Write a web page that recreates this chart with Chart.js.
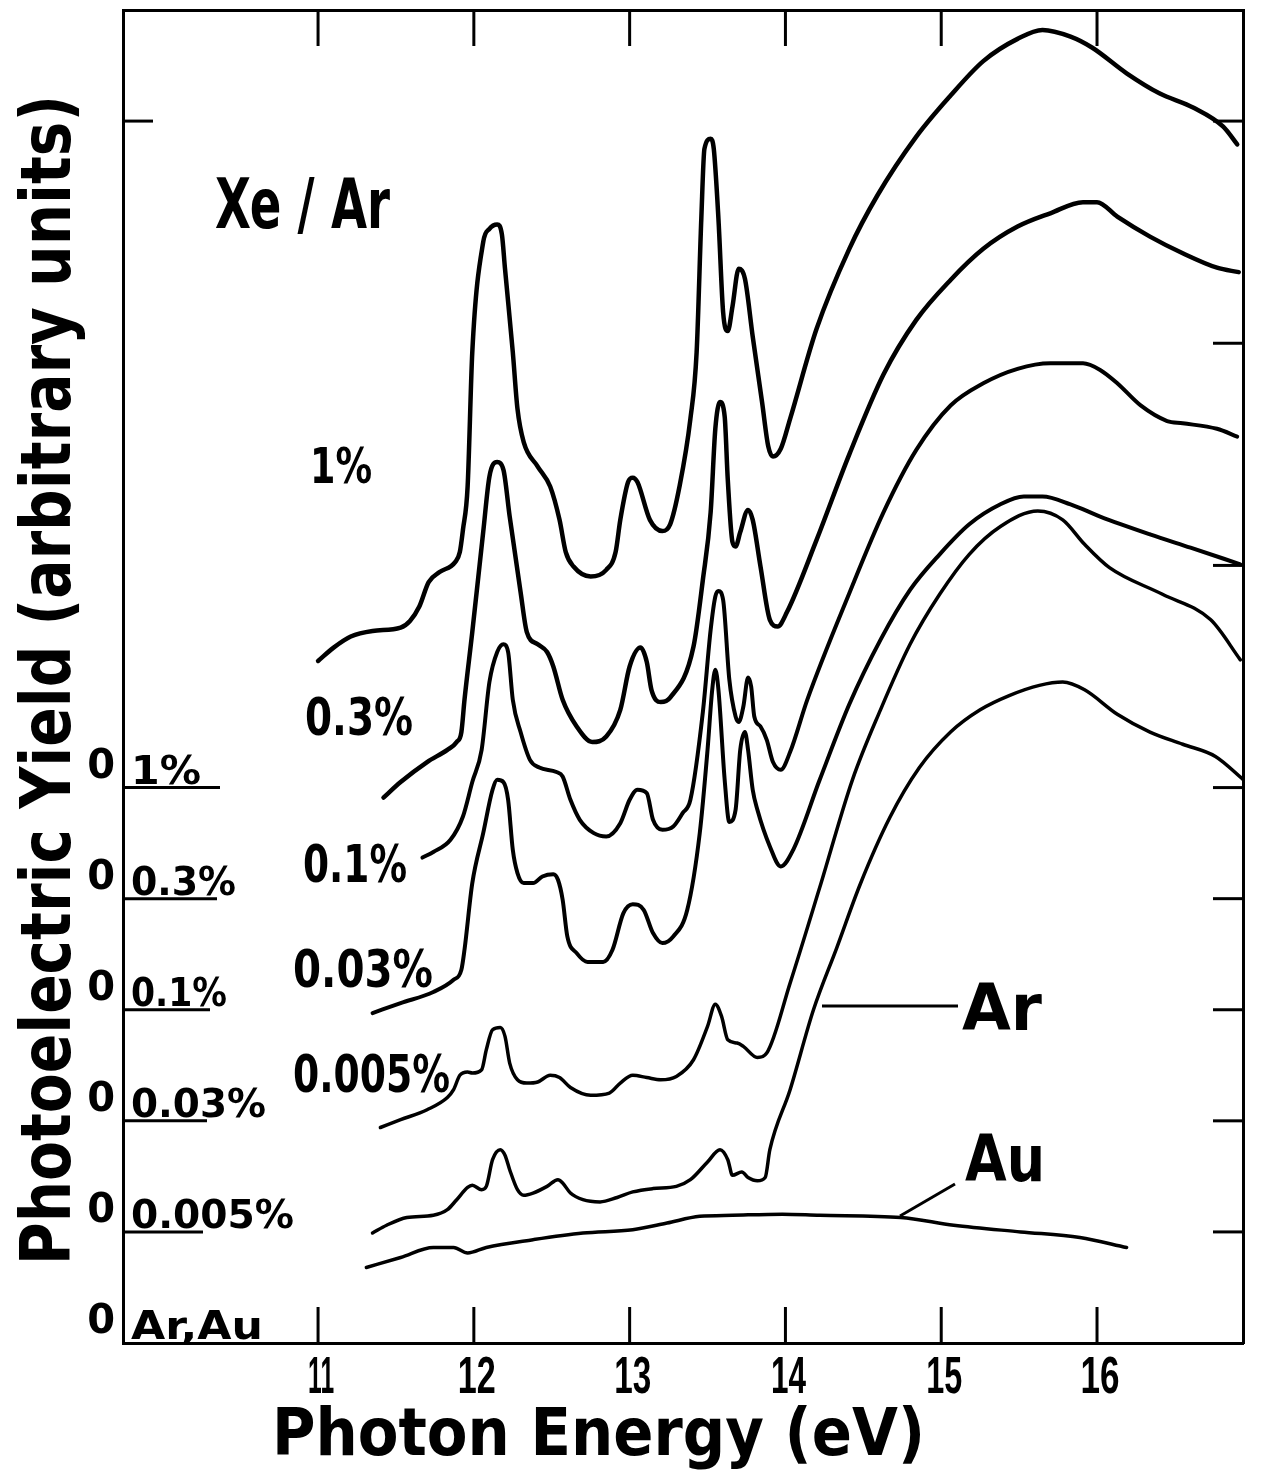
<!DOCTYPE html>
<html>
<head>
  <title>Photoelectric yield of Xe in solid Ar</title>
  <script src="https://cdn.jsdelivr.net/npm/chart.js"></script>
  <style>
    body {
      margin: 0;
      background: #ffffff;
    }
    #yieldChart {
      display: block;
    }
  </style>
</head>
<body>
  <canvas id="yieldChart" width="1262" height="1475"></canvas>
  <script>
    // photon energy (eV) and yield measured from each curve's own zero line
    const energy1 = [11.00, 11.10, 11.21, 11.35, 11.53, 11.59, 11.65, 11.71, 11.78, 11.88, 11.91, 11.93, 11.96, 11.99, 12.06, 12.10, 12.15, 12.18, 12.20, 12.25, 12.28, 12.32, 12.41, 12.49, 12.55, 12.59, 12.64, 12.75, 12.85, 12.91, 12.94, 12.99, 13.02, 13.05, 13.13, 13.21, 13.26, 13.32, 13.39, 13.43, 13.46, 13.48, 13.52, 13.54, 13.57, 13.60, 13.63, 13.66, 13.70, 13.74, 13.79, 13.85, 13.89, 13.92, 13.97, 14.03, 14.20, 14.41, 14.59, 14.84, 15.06, 15.27, 15.49, 15.65, 15.83, 15.97, 16.19, 16.40, 16.62, 16.81, 16.90];
    const yield1 = [1.14, 1.26, 1.36, 1.41, 1.44, 1.50, 1.63, 1.85, 1.94, 2.03, 2.12, 2.32, 2.71, 3.92, 4.91, 5.03, 5.07, 4.98, 4.67, 3.92, 3.41, 3.11, 2.89, 2.71, 2.41, 2.12, 1.99, 1.90, 1.96, 2.12, 2.41, 2.75, 2.79, 2.75, 2.41, 2.31, 2.37, 2.71, 3.32, 3.92, 5.12, 5.75, 5.84, 5.75, 5.12, 4.28, 4.11, 4.33, 4.67, 4.58, 4.06, 3.47, 3.07, 2.98, 3.05, 3.32, 4.13, 4.85, 5.33, 5.86, 6.23, 6.54, 6.74, 6.82, 6.76, 6.66, 6.43, 6.25, 6.12, 5.95, 5.79];

    const energy03 = [11.42, 11.53, 11.70, 11.83, 11.89, 11.92, 11.94, 11.99, 12.06, 12.10, 12.15, 12.19, 12.23, 12.30, 12.34, 12.41, 12.47, 12.51, 12.57, 12.66, 12.76, 12.85, 12.94, 13.00, 13.07, 13.11, 13.14, 13.20, 13.26, 13.41, 13.47, 13.52, 13.55, 13.58, 13.61, 13.63, 13.66, 13.68, 13.71, 13.76, 13.79, 13.84, 13.90, 13.95, 14.01, 14.20, 14.41, 14.63, 14.84, 15.06, 15.27, 15.49, 15.70, 15.91, 16.00, 16.13, 16.34, 16.55, 16.77, 16.91];
    const yield03 = [0.91, 1.05, 1.23, 1.34, 1.41, 1.50, 1.79, 2.40, 3.30, 3.80, 3.93, 3.86, 3.44, 2.76, 2.40, 2.29, 2.22, 2.09, 1.79, 1.55, 1.41, 1.46, 1.70, 2.09, 2.26, 2.13, 1.88, 1.77, 1.81, 2.27, 2.87, 3.48, 4.23, 4.47, 4.34, 3.77, 3.21, 3.17, 3.30, 3.50, 3.41, 2.99, 2.51, 2.45, 2.58, 3.23, 4.00, 4.72, 5.21, 5.57, 5.85, 6.05, 6.17, 6.27, 6.27, 6.14, 5.96, 5.81, 5.68, 5.64];

    const energy01 = [11.67, 11.74, 11.85, 11.93, 11.99, 12.05, 12.10, 12.15, 12.19, 12.22, 12.25, 12.30, 12.36, 12.42, 12.53, 12.57, 12.62, 12.68, 12.77, 12.85, 12.94, 13.00, 13.05, 13.11, 13.15, 13.21, 13.28, 13.34, 13.39, 13.47, 13.52, 13.55, 13.57, 13.60, 13.64, 13.68, 13.70, 13.73, 13.76, 13.78, 13.80, 13.84, 13.88, 13.92, 13.97, 14.03, 14.14, 14.41, 14.63, 14.84, 15.06, 15.27, 15.49, 15.70, 15.91, 16.02, 16.13, 16.28, 16.45, 16.55, 16.77, 16.90];
    const yield01 = [1.37, 1.42, 1.53, 1.74, 2.05, 2.34, 2.95, 3.22, 3.29, 3.22, 2.79, 2.50, 2.25, 2.18, 2.14, 2.10, 1.89, 1.71, 1.59, 1.56, 1.68, 1.89, 1.98, 1.95, 1.71, 1.62, 1.65, 1.77, 1.89, 2.68, 3.42, 3.72, 3.77, 3.69, 2.97, 2.64, 2.59, 2.73, 2.99, 2.91, 2.64, 2.55, 2.43, 2.23, 2.16, 2.32, 2.79, 3.75, 4.48, 5.04, 5.44, 5.64, 5.77, 5.82, 5.82, 5.76, 5.64, 5.44, 5.30, 5.28, 5.23, 5.16];

    const energy003 = [11.35, 11.53, 11.74, 11.87, 11.92, 11.94, 11.99, 12.06, 12.12, 12.15, 12.19, 12.22, 12.25, 12.28, 12.32, 12.38, 12.44, 12.51, 12.54, 12.57, 12.60, 12.66, 12.73, 12.83, 12.89, 12.96, 13.02, 13.09, 13.15, 13.21, 13.28, 13.37, 13.45, 13.50, 13.53, 13.55, 13.57, 13.61, 13.64, 13.68, 13.71, 13.74, 13.76, 13.79, 13.82, 13.90, 13.97, 14.05, 14.22, 14.41, 14.61, 14.80, 14.99, 15.18, 15.38, 15.53, 15.65, 15.83, 16.02, 16.34, 16.60, 16.92];
    const yield003 = [0.97, 1.06, 1.16, 1.27, 1.36, 1.54, 2.14, 2.59, 2.98, 3.07, 3.05, 2.89, 2.44, 2.23, 2.14, 2.14, 2.20, 2.22, 2.17, 1.99, 1.66, 1.51, 1.43, 1.43, 1.54, 1.87, 1.95, 1.90, 1.69, 1.60, 1.66, 1.90, 2.59, 3.34, 3.88, 4.06, 3.88, 3.07, 2.69, 2.80, 3.34, 3.50, 3.34, 2.98, 2.80, 2.47, 2.29, 2.44, 3.07, 3.75, 4.33, 4.78, 5.10, 5.37, 5.55, 5.62, 5.62, 5.55, 5.44, 5.28, 5.16, 5.01];

    const energy0005 = [11.40, 11.53, 11.70, 11.83, 11.87, 11.91, 11.96, 11.99, 12.05, 12.08, 12.12, 12.17, 12.20, 12.23, 12.28, 12.34, 12.41, 12.49, 12.55, 12.62, 12.75, 12.87, 12.94, 13.02, 13.11, 13.20, 13.30, 13.41, 13.50, 13.55, 13.59, 13.63, 13.69, 13.73, 13.82, 13.88, 14.03, 14.22, 14.43, 14.61, 14.80, 14.99, 15.18, 15.38, 15.62, 15.78, 15.92, 16.08, 16.42, 16.73, 16.92];
    const yield0005 = [0.94, 1.01, 1.10, 1.21, 1.28, 1.41, 1.44, 1.43, 1.46, 1.64, 1.82, 1.84, 1.76, 1.52, 1.37, 1.34, 1.35, 1.41, 1.39, 1.30, 1.23, 1.25, 1.34, 1.41, 1.39, 1.37, 1.40, 1.55, 1.85, 2.05, 1.94, 1.73, 1.70, 1.67, 1.57, 1.61, 2.24, 3.10, 4.07, 4.70, 5.29, 5.74, 6.10, 6.35, 6.49, 6.41, 6.19, 5.98, 5.74, 5.51, 5.15];

    const energyAr = [11.35, 11.44, 11.57, 11.74, 11.83, 11.89, 11.96, 11.99, 12.05, 12.08, 12.12, 12.17, 12.20, 12.23, 12.28, 12.32, 12.38, 12.47, 12.54, 12.57, 12.62, 12.70, 12.81, 12.92, 13.02, 13.15, 13.30, 13.39, 13.50, 13.58, 13.63, 13.66, 13.72, 13.76, 13.82, 13.87, 13.90, 14.03, 14.18, 14.33, 14.48, 14.67, 14.86, 15.06, 15.25, 15.44, 15.63, 15.78, 15.92, 16.13, 16.34, 16.55, 16.76, 16.94];
    const yieldAr = [0.99, 1.06, 1.13, 1.15, 1.20, 1.29, 1.40, 1.42, 1.38, 1.41, 1.65, 1.74, 1.69, 1.56, 1.38, 1.33, 1.35, 1.41, 1.47, 1.44, 1.35, 1.29, 1.27, 1.31, 1.36, 1.39, 1.41, 1.47, 1.63, 1.74, 1.65, 1.51, 1.54, 1.49, 1.46, 1.49, 1.74, 2.28, 3.00, 3.56, 4.13, 4.73, 5.18, 5.50, 5.70, 5.83, 5.92, 5.95, 5.88, 5.66, 5.50, 5.39, 5.28, 5.07];

    const energyAu = [11.31, 11.53, 11.74, 11.87, 11.96, 12.08, 12.38, 12.70, 13.02, 13.24, 13.45, 13.66, 13.98, 14.22, 14.74, 15.08, 15.51, 15.89, 16.19];
    const yieldAu = [0.68, 0.77, 0.86, 0.86, 0.81, 0.86, 0.93, 0.99, 1.02, 1.08, 1.14, 1.15, 1.16, 1.15, 1.13, 1.06, 1.00, 0.95, 0.86];

    const seriesNames = ['1%', '0.3%', '0.1%', '0.03%', '0.005%', 'Ar', 'Au'];
    const zeroLines = [5, 4, 3, 2, 1, 0, 0];
    const energies = [energy1, energy03, energy01, energy003, energy0005, energyAr, energyAu];
    const yields = [yield1, yield03, yield01, yield003, yield0005, yieldAr, yieldAu];
    const zeroLabels = ['1%', '0.3%', '0.1%', '0.03%', '0.005%', 'Ar,Au'];
    const tickEnergies = [11, 12, 13, 14, 15, 16];
    const rightTickLevels = [1, 2, 3, 4, 5, 7, 9, 11];

    const FONT = '"DejaVu Sans", "Liberation Sans", sans-serif';
    const DIGITS = '"Liberation Sans", Arial, sans-serif';
    const curveWidths = [4.5, 4.5, 4, 4, 3.5, 3.5, 3.5];

    const datasets = seriesNames.map((name, i) => ({
      label: name,
      data: energies[i].map((e, k) => ({x: e, y: yields[i][k] + zeroLines[i]})),
      borderColor: '#000',
      borderWidth: curveWidths[i],
      pointRadius: 0,
      cubicInterpolationMode: 'monotone',
      borderCapStyle: 'round',
      borderJoinStyle: 'round',
      fill: false
    }));

    // bold text squeezed/stretched to a given width, cap height sets the size
    function fitText(ctx, text, x, y, capHeight, width, align, family) {
      const size = capHeight / 0.725;
      ctx.save();
      ctx.font = 'bold ' + size.toFixed(1) + 'px ' + (family || FONT);
      ctx.textAlign = align || 'left';
      ctx.textBaseline = 'alphabetic';
      const w = ctx.measureText(text).width;
      ctx.translate(x, y);
      ctx.scale(width / w, 1);
      ctx.fillText(text, 0, 0);
      ctx.restore();
    }

    function line(ctx, x1, y1, x2, y2) {
      ctx.beginPath();
      ctx.moveTo(x1, y1);
      ctx.lineTo(x2, y2);
      ctx.stroke();
    }

    const annotations = {
      id: 'annotations',
      afterDraw(chart) {
        const {ctx, chartArea: a, scales: {x, y}} = chart;
        ctx.save();
        ctx.strokeStyle = '#000';
        ctx.fillStyle = '#000';
        ctx.lineCap = 'butt';

        // inward tick marks on all four sides, tall narrow numbers under the bottom ones
        ctx.lineWidth = 3;
        const tickLabelWidths = [26, 38, 37, 35, 36, 39];
        tickEnergies.forEach((e, i) => {
          const px = x.getPixelForValue(e);
          line(ctx, px, a.bottom, px, a.bottom - 36);
          line(ctx, px, a.top, px, a.top + 36);
          fitText(ctx, String(e), px + 3, a.bottom + 50, 37, tickLabelWidths[i], 'center', DIGITS);
        });
        rightTickLevels.forEach(v => {
          const py = y.getPixelForValue(v);
          line(ctx, a.right, py, a.right - 30, py);
        });
        line(ctx, a.left, y.getPixelForValue(11), a.left + 30, y.getPixelForValue(11));

        // zero-line names with their short underlines
        const underlineEnds = [220, 217, 210, 207, 203];
        const zeroLabelWidths = [70, 105, 96, 135, 163, 132];
        zeroLabels.forEach((txt, i) => {
          const py = y.getPixelForValue(i < 5 ? zeroLines[i] : 0);
          fitText(ctx, txt, 131, py - 4, 28, zeroLabelWidths[i]);
          if (i < 5) {
            ctx.lineWidth = 3;
            line(ctx, a.left, py, underlineEnds[i], py);
          }
        });

        // labels inside the frame
        fitText(ctx, 'Xe / Ar', 215, 228, 50, 175);
        fitText(ctx, '1%', 310, 483, 36, 62);
        fitText(ctx, '0.3%', 305, 735, 38, 108);
        fitText(ctx, '0.1%', 303, 882, 37, 104);
        fitText(ctx, '0.03%', 293, 987, 37, 140);
        fitText(ctx, '0.005%', 293, 1092, 38, 157);
        fitText(ctx, 'Ar', 962, 1030, 46, 80);
        fitText(ctx, 'Au', 965, 1181, 46, 80);

        ctx.lineWidth = 3;
        line(ctx, 822, 1006, 958, 1006);
        line(ctx, 900, 1216, 955, 1184);

        // axis titles
        fitText(ctx, 'Photon Energy (eV)', 272, 1455, 48, 653);
        ctx.save();
        ctx.translate(70, 680);
        ctx.rotate(-Math.PI / 2);
        fitText(ctx, 'Photoelectric Yield (arbitrary units)', 0, 0, 50, 1170, 'center');
        ctx.restore();

        ctx.restore();
      }
    };

    // fixed box sizes so the frame lands on the same pixels every time
    const fixBox = (w, h) => axis => {
      if (w !== null) axis.width = w;
      if (h !== null) axis.height = h;
      axis.paddingTop = 0;
      axis.paddingBottom = 0;
      axis.paddingLeft = 0;
      axis.paddingRight = 0;
    };

    const frameAxis = {
      display: true,
      grid: {display: false},
      ticks: {display: false},
      border: {display: true, color: '#000', width: 3}
    };

    new Chart(document.getElementById('yieldChart'), {
      type: 'line',
      data: {datasets: datasets},
      options: {
        responsive: false,
        animation: false,
        devicePixelRatio: 1,
        events: [],
        layout: {padding: 0},
        plugins: {
          legend: {display: false},
          tooltip: {enabled: false}
        },
        scales: {
          x: {
            type: 'linear',
            position: 'bottom',
            min: 9.748,
            max: 16.937,
            afterBuildTicks: axis => { axis.ticks = tickEnergies.map(v => ({value: v})); },
            afterFit: fixBox(null, 132),
            grid: {display: false, drawTicks: false},
            border: {display: true, color: '#000', width: 3},
            ticks: {display: false}
          },
          y: {
            type: 'linear',
            position: 'left',
            min: 0,
            max: 12,
            afterBuildTicks: axis => { axis.ticks = [0, 1, 2, 3, 4, 5].map(v => ({value: v})); },
            afterFit: fixBox(123, null),
            grid: {display: false, drawTicks: false},
            border: {display: true, color: '#000', width: 3},
            ticks: {
              color: '#000',
              padding: 8,
              align: 'end',
              callback: () => '0',
              font: {family: FONT, size: 40, weight: 'bold'}
            }
          },
          xTop: Object.assign({}, frameAxis, {
            type: 'linear',
            position: 'top',
            afterFit: fixBox(null, 10)
          }),
          yRight: Object.assign({}, frameAxis, {
            type: 'linear',
            position: 'right',
            afterFit: fixBox(19, null)
          })
        }
      },
      plugins: [annotations]
    });
  </script>
</body>
</html>
